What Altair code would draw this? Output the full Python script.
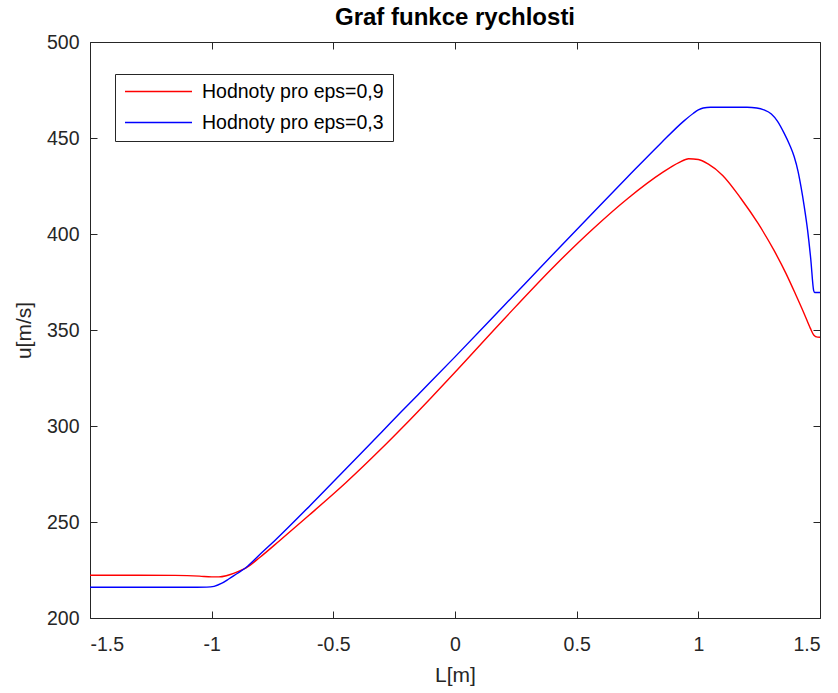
import altair as alt
import pandas as pd

# --- data ---
series_names = ["Hodnoty pro eps=0,9", "Hodnoty pro eps=0,3"]
series_colors = ["#ff0000", "#0000ff"]

red_L = [-1.5, -1.3, -1.15, -1.05, -1.0, -0.97, -0.94, -0.91, -0.88, -0.86, -0.8, -0.72,
         -0.6, -0.45, -0.3, -0.22, -0.1, 0.0, 0.2, 0.41, 0.57, 0.71, 0.85, 0.92, 0.96,
         1.0, 1.04, 1.1, 1.175, 1.245, 1.31, 1.36, 1.4, 1.435, 1.46, 1.475, 1.49, 1.5]
red_u = [222.3, 222.3, 222.2, 221.8, 221.4, 221.4, 222.0, 223.2, 224.8, 226.0, 231.8, 240.4,
         253.5, 270.3, 288.5, 298.7, 314.5, 328.0, 355.5, 383.5, 403.0, 418.5, 431.8, 437.2, 439.2,
         438.8, 436.5, 430.5, 418.5, 405.6, 391.7, 379.5, 368.5, 358.5, 351.0, 347.3, 346.3, 346.2]

blue_L = [-1.5, -1.3, -1.1, -1.02, -0.99, -0.96, -0.93, -0.9, -0.86, -0.8, -0.735, -0.6,
          -0.45, -0.3, -0.224, -0.1, 0.0, 0.2, 0.407, 0.57, 0.71, 0.846, 0.94, 0.98, 1.0,
          1.02, 1.05, 1.1, 1.2, 1.24, 1.27, 1.3, 1.325, 1.353, 1.375, 1.394, 1.41, 1.422,
          1.435, 1.449, 1.462, 1.474, 1.478, 1.5]
blue_u = [216.0, 216.0, 216.0, 216.1, 216.5, 218.0, 220.3, 222.8, 226.2, 233.3, 241.0, 258.0,
          277.5, 297.0, 307.0, 323.0, 336.0, 362.5, 390.0, 411.5, 429.8, 447.3, 458.8, 462.9, 464.6,
          465.6, 466.0, 466.0, 466.0, 465.6, 464.6, 462.5, 458.8, 452.4, 446.5, 440.2, 432.5, 424.5,
          414.5, 402.0, 387.0, 370.5, 369.5, 369.5]

x_ticks = [-1.5, -1.0, -0.5, 0.0, 0.5, 1.0, 1.5]
y_ticks = [200, 250, 300, 350, 400, 450, 500]

rows = []
for L, u in zip(red_L, red_u):
    rows.append({"L": L, "u": u, "series": series_names[0]})
for L, u in zip(blue_L, blue_u):
    rows.append({"L": L, "u": u, "series": series_names[1]})
df = pd.DataFrame(rows)

FONT = "Liberation Sans"
AX = "#262626"
TICK = 7
LBL = 19.5
TTL = 21

xscale = alt.Scale(domain=[-1.5, 1.5], nice=False, zero=False)
yscale = alt.Scale(domain=[200, 500], nice=False, zero=False)

common = dict(labelFont=FONT, labelFontSize=LBL, labelColor=AX,
              titleFont=FONT, titleFontSize=TTL, titleFontWeight="normal", titleColor=AX,
              tickColor=AX, tickWidth=1, tickSize=TICK, offset=-TICK, domain=False,
              grid=False)

base = alt.Chart(df)

lines = base.mark_line(strokeWidth=1.4, interpolate="monotone").encode(
    x=alt.X("L:Q", scale=xscale,
            axis=alt.Axis(orient="bottom", values=x_ticks, title="L[m]", labelPadding=17,
                          labelExpr="toString(datum.value)", titlePadding=11, **common)),
    y=alt.Y("u:Q", scale=yscale,
            axis=alt.Axis(orient="left", values=y_ticks, title="u[m/s]", labelPadding=11,
                          titlePadding=12, **common)),
    color=alt.Color("series:N",
                    scale=alt.Scale(domain=series_names, range=series_colors),
                    legend=alt.Legend(orient="none", legendX=25, legendY=32, title=None,
                                      symbolType="stroke", symbolSize=4489,
                                      symbolStrokeWidth=1.4, clipHeight=17, rowPadding=11,
                                      labelOffset=9, labelFontSize=LBL, labelFont=FONT,
                                      labelColor="black", labelLimit=400,
                                      strokeColor=AX, fillColor="white", padding=9)),
    detail="series:N",
)

frame_ticks = base.mark_line(opacity=0).encode(
    x=alt.X("L:Q", scale=xscale,
            axis=alt.Axis(orient="top", values=x_ticks, title=None, labels=False, **common)),
    y=alt.Y("u:Q", scale=yscale,
            axis=alt.Axis(orient="right", values=y_ticks, title=None, labels=False, **common)),
    detail="series:N",
)

chart = alt.layer(lines, frame_ticks).resolve_axis(
    x="independent", y="independent"
).properties(
    width=730,
    height=576,
    background="white",
    title=alt.TitleParams("Graf funkce rychlosti", font=FONT, fontSize=24,
                          fontWeight="bold", color="black", anchor="middle", offset=2),
    autosize=alt.AutoSizeParams(type="none"),
    padding={"left": 90, "top": 42, "right": 18, "bottom": 75},
).configure_view(
    stroke=AX, strokeWidth=1
)

chart.save("out.html", embed_options={"renderer": "svg", "actions": False})
